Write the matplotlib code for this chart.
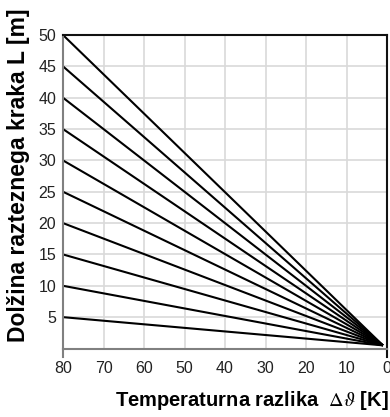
import matplotlib
matplotlib.use("Agg")
import matplotlib.pyplot as plt

plt.rcParams['font.family'] = ['Liberation Sans', 'DejaVu Sans']
plt.rcParams['mathtext.fontset'] = 'stix'

# Data
lengths = [5, 10, 15, 20, 25, 30, 35, 40, 45, 50]   # L at delta T = 80 K
dT_start = 80
dT_end = 1
L_end = 0.5
x_ticks = [80, 70, 60, 50, 40, 30, 20, 10, 0]
y_ticks = [5, 10, 15, 20, 25, 30, 35, 40, 45, 50]

W, H = 390, 417
fig = plt.figure(figsize=(W / 100, H / 100), dpi=100)
ax = fig.add_axes([63 / W, 1 - 348.5 / H, (387 - 63) / W, (348.5 - 35) / H])

for L in lengths:
    ax.plot([dT_start, dT_end], [L, L_end], color='black', lw=1.5, solid_capstyle='butt')

ax.set_xlim(80, 0)
ax.set_ylim(0, 50)
ax.set_xticks(x_ticks)
ax.set_yticks(y_ticks)
ax.grid(True, color='#d9d9d9', lw=1.2)
ax.set_axisbelow(True)
ax.tick_params(axis='both', length=0, labelsize=11.5, colors='#222222')
ax.tick_params(axis='x', pad=9)
ax.tick_params(axis='y', pad=5)

for s in ['top', 'right']:
    ax.spines[s].set_color('#111111')
    ax.spines[s].set_linewidth(1.5)
for s in ['left', 'bottom']:
    ax.spines[s].set_color('#808080')
    ax.spines[s].set_linewidth(1.5)

# spine extensions below the axis
ax.plot([0, 0], [0, -0.028], transform=ax.transAxes, color='#808080', lw=1.5, clip_on=False)
ax.plot([1, 1], [0, -0.028], transform=ax.transAxes, color='#111111', lw=1.5, clip_on=False)

fig.text(19 / W, 1 - 175 / H, 'Dolžina razteznega kraka L [m]', rotation=90,
         ha='center', va='center', fontsize=16.5, fontweight='bold')
fig.text(252 / W, 1 - 400 / H, r'Temperaturna razlika  $\Delta\vartheta$ [K]',
         ha='center', va='center', fontsize=14.5, fontweight='bold')

fig.savefig('out.png', dpi=100)
